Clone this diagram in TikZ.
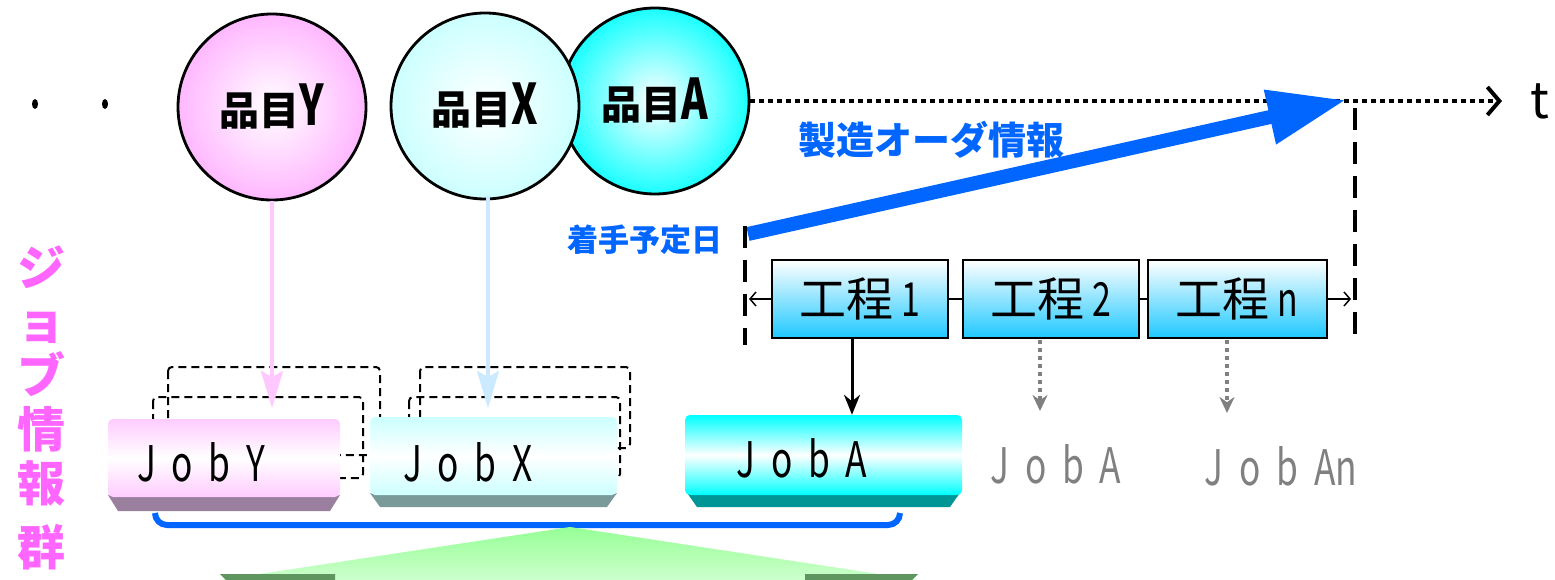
\documentclass[tikz,border=0pt]{standalone}
\usepackage{fontspec}
\setmainfont{Noto Sans CJK JP}
\newfontfamily\condlat[FakeStretch=0.72]{Noto Sans CJK JP}
\usetikzlibrary{arrows.meta,shapes.geometric}
\definecolor{pinkY}{RGB}{255,204,255}
\definecolor{cyanX}{RGB}{204,255,255}
\definecolor{cyanA}{RGB}{0,255,255}
\definecolor{procB}{RGB}{30,200,255}
\definecolor{bblue}{RGB}{0,102,255}
\definecolor{magtxt}{RGB}{255,102,255}
\definecolor{bevY}{RGB}{155,127,159}
\definecolor{bevX}{RGB}{122,154,154}
\definecolor{bevA}{RGB}{0,150,150}
\definecolor{arrY}{RGB}{255,200,255}
\definecolor{arrX}{RGB}{204,234,255}
\definecolor{gtop}{RGB}{150,255,150}
\definecolor{gbot}{RGB}{205,255,205}
\definecolor{gdark}{RGB}{95,150,95}
\newcommand\jsp{\hspace{0.32em}}
\newcommand\itemlbl[1]{{\bfseries 品目}{\condlat\bfseries\fontsize{56}{56}\selectfont #1}}
\tikzset{
  item/.style={ellipse, draw=black, line width=2.8pt, minimum width=188pt, minimum height=186pt, inner sep=0pt,
     font=\fontsize{40}{44}\selectfont},
  jobbox/.style={rectangle, rounded corners=5pt, inner sep=0pt},
  jobtxt/.style={font=\condlat\fontsize{49}{56}\selectfont, inner sep=0pt, anchor=base},
  procbox/.style={rectangle, draw=black, line width=2pt, top color=white, bottom color=procB,
     minimum width=176pt, minimum height=78pt, inner sep=0pt, font=\fontsize{47}{52}\selectfont},
  dbox/.style={draw=black, line width=2pt, dash pattern=on 8pt off 5pt, rounded corners=4pt},
  vdash/.style={draw=black, line width=4pt, dash pattern=on 22pt off 12pt},
  grayarr/.style={draw=gray, line width=4pt, dash pattern=on 4pt off 4pt, -{Stealth[length=16pt,width=15pt]}},
}
\begin{document}
\begin{tikzpicture}[x=1pt,y=-1pt]
\useasboundingbox (0,0) rectangle (1555,580);

% leading dots
\fill (35,104) ellipse (3pt and 5pt);
\fill (105,104) ellipse (3pt and 5pt);

% time axis
\coordinate (ax0) at (750,101);
\coordinate (ax1) at (1502,101);
\draw[line width=4pt, dash pattern=on 5pt off 4pt, -{Straight Barb[length=12pt,width=28pt,line width=4pt]}] (ax0) -- (ax1);
\node[font=\fontsize{50}{56}\selectfont, inner sep=0pt] (t) at (1540,101) {t};

% items
\node[item, inner color=white, outer color=cyanA!90] (ia) at (655,101) {\itemlbl{A}};
\node[item, inner color=white, outer color=cyanX] (ix) at (485,106) {\itemlbl{X}};
\node[item, inner color=white, outer color=pinkY!90!magenta] (iy) at (272,107) {\itemlbl{Y}};

% order arrow
\coordinate (st) at (748,234);
\coordinate (en) at (1346,100);
\draw[bblue, line width=14pt, -{Triangle[length=78pt,width=52pt]}] (st) -- (en);
\node[bblue, font=\fontsize{38}{44}\selectfont\bfseries, inner sep=0pt] (ord) at (931,140) {製造オーダ情報};
\node[bblue, font=\fontsize{31}{36}\selectfont\bfseries, inner sep=0pt] (start) at (645,240) {着手予定日};

% dashed verticals
\coordinate (d1t) at (745,226);
\coordinate (d1b) at (745,345);
\coordinate (d2t) at (1355,108);
\coordinate (d2b) at (1355,345);
\draw[vdash] (d1t) -- (d1b);
\draw[vdash] (d2t) -- (d2b);

% process line
\coordinate (pl) at (749,299);
\coordinate (pr) at (1351,299);
\draw[line width=1.5pt, {Straight Barb[length=6pt,width=14pt]}-{Straight Barb[length=6pt,width=14pt]}] (pl) -- (pr);

% process boxes
\node[procbox] (p1) at (860,299) {工程{\condlat\,1}};
\node[procbox] (p2) at (1051,299) {工程{\condlat\,2}};
\node[procbox, minimum width=179pt] (pn) at (1237,299) {工程{\condlat\,n}};

% dashed stacks
\draw[dbox] (168,367) rectangle (380,455);
\draw[dbox] (153,397) rectangle (363,478);
\draw[dbox] (420,367) rectangle (630,448);
\draw[dbox] (409,397) rectangle (620,478);

% arrows from items
\draw[arrY, line width=4pt, -{Stealth[length=37pt,width=22pt,inset=6pt]}] (iy.south) -- (272,408);
\draw[arrX, line width=4pt, -{Stealth[length=37pt,width=22pt,inset=6pt]}] (488,196) -- (488,408);

% job boxes
\fill[bevY] (108,495) -- (340,495) -- (330,511) -- (118,511) -- cycle;
\node[jobbox, top color=pinkY, bottom color=pinkY, middle color=white, minimum width=232pt, minimum height=78pt] (jy) at (224,458) {};
\fill[bevX] (370,493) -- (617,493) -- (607,507) -- (380,507) -- cycle;
\node[jobbox, top color=cyanX, bottom color=cyanX, middle color=white, minimum width=247pt, minimum height=78pt] (jx) at (493.5,456) {};
\fill[bevA] (685,490) -- (962,490) -- (950,507) -- (697,507) -- cycle;
\node[jobbox, top color=cyanA, bottom color=cyanA, middle color=white, minimum width=277pt, minimum height=80pt] (ja) at (823.5,455) {};

\node[jobtxt] (ty) at (201,481) {J\jsp o\jsp b\jsp Y};
\node[jobtxt] (tx) at (468,481) {J\jsp o\jsp b\jsp X};
\node[jobtxt] (tA) at (802,477) {J\jsp o\jsp b\jsp A};
\node[jobtxt, gray] (ga) at (1056,483) {J\jsp o\jsp b\jsp A};
\node[jobtxt, gray] (gn) at (1281,485) {J\jsp o\jsp b\jsp An};

% process to job arrows
\draw[line width=3pt, -{Stealth[length=20pt,width=16pt]}] (p1.south -| 852,0) -- (ja.north -| 852,0);
\draw[grayarr] (1040,340) -- (1040,411);
\draw[grayarr] (1227,340) -- (1227,413);

% bracket
\draw[bblue, line width=6pt, rounded corners=12pt] (155,513) -- (155,525) -- (900,525) -- (900,513);

% green triangle
\coordinate (gap) at (570,527);
\shade[top color=gtop, bottom color=gbot] (gap) -- (918,580) -- (220,580) -- cycle;
\fill[gdark] (220,574) -- (335,574) -- (335,580) -- (226,580) -- cycle;
\fill[gdark] (805,574) -- (918,574) -- (912,580) -- (805,580) -- cycle;

% vertical label
\node[magtxt, font=\fontsize{48}{54}\selectfont\bfseries, align=center, inner sep=0pt, anchor=north] (vl) at (41,246)
  {ジ\\ョ\\ブ\\情\\報\\[10pt]群};
\end{tikzpicture}
\end{document}
